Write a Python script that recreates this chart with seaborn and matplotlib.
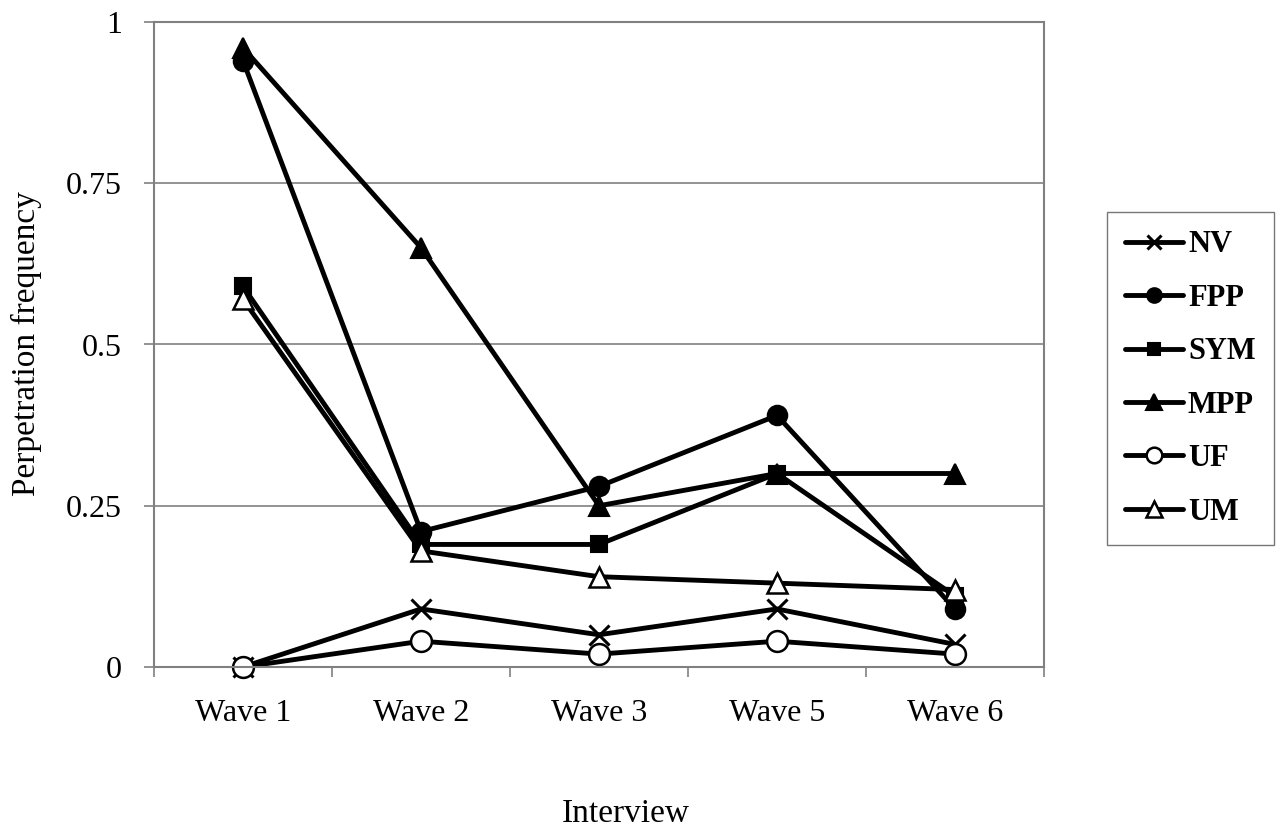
import matplotlib
matplotlib.use("Agg")
import matplotlib.pyplot as plt
import seaborn as sns
import pandas as pd
from matplotlib.ticker import FixedLocator
from matplotlib.lines import Line2D

waves = ["Wave 1", "Wave 2", "Wave 3", "Wave 5", "Wave 6"]
nv = [0.0, 0.09, 0.05, 0.09, 0.035]
fpp = [0.94, 0.21, 0.28, 0.39, 0.09]
sym = [0.59, 0.19, 0.19, 0.30, 0.11]
mpp = [0.96, 0.65, 0.25, 0.30, 0.30]
uf = [0.0, 0.04, 0.02, 0.04, 0.02]
um = [0.57, 0.18, 0.14, 0.13, 0.12]
series_names = ["NV", "FPP", "SYM", "MPP", "UF", "UM"]
series_values = [nv, fpp, sym, mpp, uf, um]
y_ticks = [0, 0.25, 0.5, 0.75, 1]
y_tick_labels = ["0", "0.25", "0.5", "0.75", "1"]

styles = {
    "NV": dict(marker="x", markersize=14, markerfacecolor="black", markeredgewidth=2.2),
    "FPP": dict(marker="o", markersize=14, markerfacecolor="black", markeredgewidth=1.5),
    "SYM": dict(marker="s", markersize=11, markerfacecolor="black", markeredgewidth=1.5),
    "MPP": dict(marker="^", markersize=15, markerfacecolor="black", markeredgewidth=1.5),
    "UF": dict(marker="o", markersize=15, markerfacecolor="white", markeredgewidth=1.8),
    "UM": dict(marker="^", markersize=15, markerfacecolor="white", markeredgewidth=1.8),
}

sns.set_theme(style="white")
plt.rcParams["font.family"] = ["Liberation Serif", "DejaVu Serif"]
plt.rcParams["text.color"] = "black"
plt.rcParams["axes.labelcolor"] = "black"
plt.rcParams["xtick.color"] = "black"
plt.rcParams["ytick.color"] = "black"

fig = plt.figure(figsize=(12.82, 8.30), dpi=100)
ax = fig.add_axes([154 / 1282, 1 - 667 / 830, (1044 - 154) / 1282, (667 - 22) / 830])

handles = []
for name, vals in zip(series_names, series_values):
    df = pd.DataFrame({"wave": waves, "value": vals})
    st = styles[name]
    sns.lineplot(data=df, x="wave", y="value", ax=ax, color="black", linewidth=3.5,
                 markeredgecolor="black", clip_on=False, sort=False, **st)
    handles.append(Line2D([], [], color="black", linewidth=3.5, markeredgecolor="black",
                          **{k: (v * 0.75 if k == "markersize" else v) for k, v in st.items()}))

ax.set_xlim(-0.5, len(waves) - 0.5)
ax.set_ylim(0, 1)
ax.yaxis.set_major_locator(FixedLocator(y_ticks))
ax.set_yticklabels(y_tick_labels)
ax.grid(axis="y", color="#808080", linewidth=1.2)
ax.set_axisbelow(True)
ax.set_xticks(range(len(waves)))
ax.set_xticklabels(waves)
ax.xaxis.set_minor_locator(FixedLocator([i - 0.5 for i in range(len(waves) + 1)]))
ax.tick_params(axis="x", which="major", length=0, pad=23, labelsize=23, labelcolor="black")
ax.tick_params(axis="x", which="minor", length=7, width=1.2, color="#808080", direction="out", bottom=True)
ax.tick_params(axis="y", which="major", length=7, width=1.2, color="#808080", direction="out", left=True,
               pad=16, labelsize=23, labelcolor="black")
for side in ["left", "right", "top", "bottom"]:
    ax.spines[side].set_color("#808080")
    ax.spines[side].set_linewidth(1.5)
ax.set_xlabel("")
ax.set_ylabel("")
fig.text(26 / 1282, 1 - 344 / 830, "Perpetration frequency", rotation=90, ha="center", va="center",
         fontsize=24, color="black")
fig.text(626 / 1282, 1 - 822 / 830, "Interview", ha="center", va="baseline", fontsize=24, color="black")

leg = fig.legend(handles, series_names, loc="upper left",
                 bbox_to_anchor=(1107 / 1282, 1 - 212 / 830), frameon=True, fancybox=False,
                 prop=dict(family="Liberation Serif", weight="bold", size=22),
                 handlelength=1.9, handletextpad=0.15, labelspacing=0.8, borderpad=0.6,
                 borderaxespad=0)
leg.get_frame().set_edgecolor("#555555")
leg.get_frame().set_linewidth(1.0)

fig.savefig("out.png", dpi=100, facecolor="white")
